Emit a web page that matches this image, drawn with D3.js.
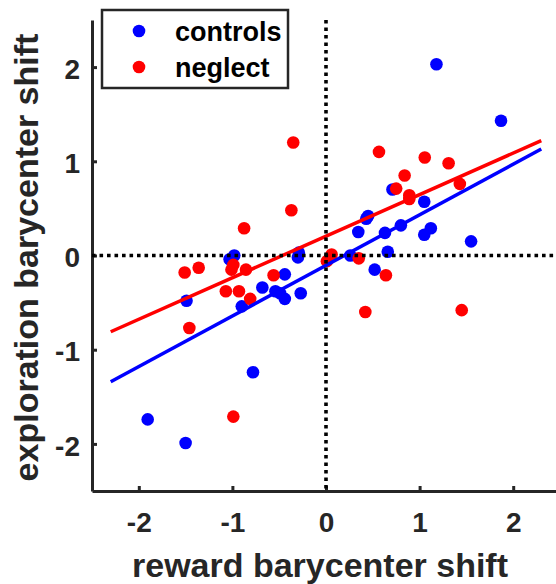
<!DOCTYPE html>
<html>
<head>
<meta charset="utf-8">
<script src="https://cdn.jsdelivr.net/npm/d3@7"></script>
<style>
  html, body { margin: 0; padding: 0; background: #fff; }
  svg { display: block; font-family: "Liberation Sans", Arial, Helvetica, sans-serif; }
</style>
</head>
<body>
<div id="chart"></div>
<script>
// controls: [reward shift, exploration shift]
const controlsX = [-0.98, -1.03, -0.29, -0.30, -0.44, -0.68, -0.54, -0.49, -0.44, -0.27,
                   -0.90, -1.49, -0.78, -1.905, -1.50, 0.71, 1.05, 0.43, 0.45, 0.345,
                   0.63, 0.80, 1.12, 1.05, 1.55, 0.66, 0.26, 0.52, 1.18, 1.87];
const controlsY = [0.00, -0.04, 0.03, -0.02, -0.20, -0.34, -0.38, -0.40, -0.46, -0.40,
                   -0.54, -0.48, -1.24, -1.74, -1.99, 0.70, 0.57, 0.39, 0.42, 0.25,
                   0.24, 0.32, 0.29, 0.22, 0.15, 0.04, 0.00, -0.15, 2.03, 1.43];

// neglect
const neglectX = [-0.35, -0.37, -0.875, -1.51, -1.36, -0.99, -1.01, -0.855, -0.56, -1.07,
                  -0.93, -0.81, -1.46, 0.01, 0.06, -0.99, 0.566, 1.055, 1.31, 0.84,
                  0.75, 0.89, 0.89, 1.43, 0.35, 0.64, 0.42, 1.45];
const neglectY = [1.20, 0.48, 0.29, -0.18, -0.13, -0.10, -0.15, -0.15, -0.21, -0.38,
                  -0.38, -0.46, -0.77, -0.06, 0.01, -1.71, 1.10, 1.04, 0.98, 0.85,
                  0.71, 0.64, 0.60, 0.76, -0.03, -0.21, -0.60, -0.58];

// fitted lines [slope, intercept], drawn over this x span
const controlsFit = [0.537, -0.105];
const neglectFit = [0.441, 0.205];
const fitSpan = [-2.3, 2.3];

const xTicks = [-2, -1, 0, 1, 2];
const yTicks = [-2, -1, 0, 1, 2];
const seriesNames = ["controls", "neglect"];
const seriesColors = ["#0000ff", "#ff0000"];

const width = 556, height = 584;
const axisColor = "#262626";

const svg = d3.select("#chart").append("svg")
    .attr("width", width)
    .attr("height", height);

const x = d3.scaleLinear().domain([-2.5, 2.5]).range([92, 560]);
const y = d3.scaleLinear().domain([-2.5, 2.5]).range([491, 20]);

// axes (ticks pointing inward, box off)
const xAxis = svg.append("g")
    .attr("transform", `translate(0,${y(-2.5)})`)
    .call(d3.axisBottom(x).tickValues(xTicks).tickSize(-5).tickPadding(21).tickSizeOuter(0)
        .tickFormat(d3.format("d")));
const yAxis = svg.append("g")
    .attr("transform", `translate(${x(-2.5)},0)`)
    .call(d3.axisLeft(y).tickValues(yTicks).tickSize(-5).tickPadding(12).tickSizeOuter(0)
        .tickFormat(d3.format("d")));

[xAxis, yAxis].forEach(g => {
    g.select(".domain").attr("stroke", axisColor).attr("stroke-width", 3);
    g.selectAll(".tick line").attr("stroke", axisColor).attr("stroke-width", 3);
    g.selectAll(".tick text")
        .attr("fill", axisColor)
        .style("font-size", "28px")
        .style("font-weight", "bold")
        .text(d => d < 0 ? "-" + Math.abs(d) : d);
});
xAxis.selectAll(".tick text").attr("dy", "0.71em");
yAxis.selectAll(".tick text").attr("dy", "0.4em");

// axis labels
svg.append("text")
    .attr("x", (x(-2.5) + x(2.5)) / 2 - 6)
    .attr("y", 577)
    .attr("text-anchor", "middle")
    .attr("fill", axisColor)
    .style("font-size", "34px")
    .style("font-weight", "bold")
    .text("reward barycenter shift");

svg.append("text")
    .attr("transform", `translate(38,${(y(-2.5) + y(2.5)) / 2 + 2}) rotate(-90)`)
    .attr("text-anchor", "middle")
    .attr("fill", axisColor)
    .style("font-size", "34px")
    .style("font-weight", "bold")
    .text("exploration barycenter shift");

// scatter points
const controls = controlsX.map((v, i) => ({ x: v, y: controlsY[i] }));
const neglect = neglectX.map((v, i) => ({ x: v, y: neglectY[i] }));

[controls, neglect].forEach((pts, k) => {
    svg.append("g").selectAll("circle")
        .data(pts)
        .enter()
        .append("circle")
        .attr("cx", d => x(d.x))
        .attr("cy", d => y(d.y))
        .attr("r", 6.3)
        .attr("fill", seriesColors[k]);
});

// regression lines
[controlsFit, neglectFit].forEach((fit, k) => {
    const pts = fitSpan.map(v => [v, fit[0] * v + fit[1]]);
    svg.append("path")
        .datum(pts)
        .attr("d", d3.line().x(d => x(d[0])).y(d => y(d[1])))
        .attr("fill", "none")
        .attr("stroke", seriesColors[k])
        .attr("stroke-width", 3.5);
});

// zero lines (dotted)
svg.append("line")
    .attr("x1", x(-2.5)).attr("x2", x(2.5))
    .attr("y1", y(0)).attr("y2", y(0))
    .attr("stroke", "#000").attr("stroke-width", 3.6)
    .attr("stroke-dasharray", "3.6,3.9");
svg.append("line")
    .attr("x1", x(0)).attr("x2", x(0))
    .attr("y1", y(2.5)).attr("y2", y(-2.5))
    .attr("stroke", "#000").attr("stroke-width", 3.6)
    .attr("stroke-dasharray", "3.6,3.9");

// legend
const legend = svg.append("g");
legend.append("rect")
    .attr("x", 102).attr("y", 10)
    .attr("width", 186).attr("height", 78)
    .attr("fill", "#fff")
    .attr("stroke", axisColor)
    .attr("stroke-width", 2.5);

seriesNames.forEach((name, i) => {
    const g = legend.append("g").attr("transform", `translate(0,${31 + i * 36})`);
    g.append("circle")
        .attr("cx", 139).attr("cy", 0)
        .attr("r", 6.3)
        .attr("fill", seriesColors[i]);
    g.append("text")
        .attr("x", 175).attr("y", 10)
        .attr("fill", "#000")
        .style("font-size", "27px")
        .style("font-weight", "bold")
        .text(name);
});
</script>
</body>
</html>
